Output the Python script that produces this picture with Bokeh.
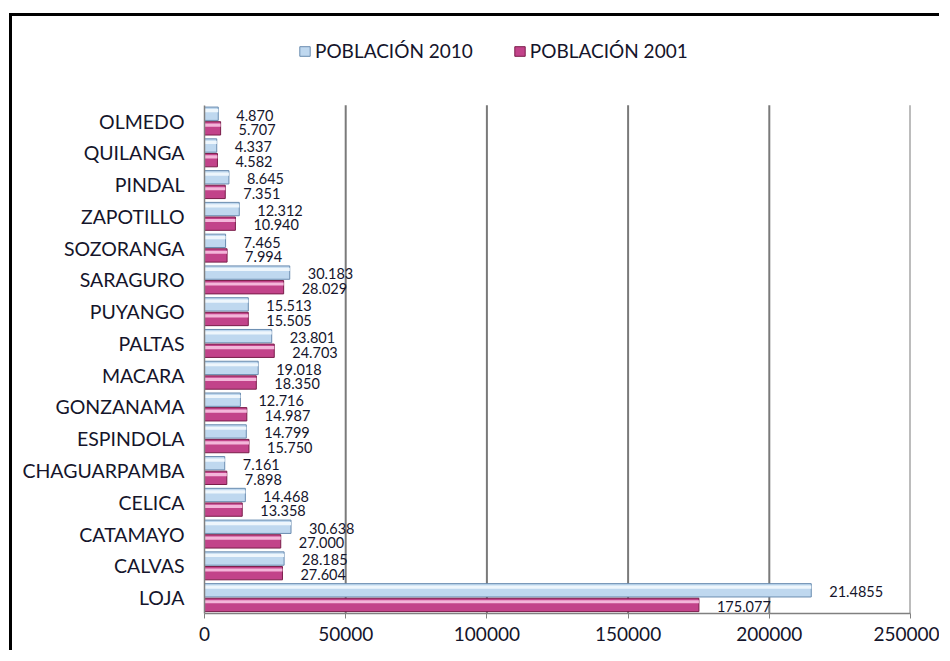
from bokeh.plotting import figure
from bokeh.models import (Range1d, FixedTicker, Legend, LegendItem,
                          ColumnDataSource, BasicTickFormatter)
from bokeh.transform import dodge
from bokeh.core.properties import value
from bokeh.embed import file_html
from bokeh.resources import INLINE

# ---- data (top to bottom as shown) ----
cantones = ["OLMEDO", "QUILANGA", "PINDAL", "ZAPOTILLO", "SOZORANGA", "SARAGURO",
            "PUYANGO", "PALTAS", "MACARA", "GONZANAMA", "ESPINDOLA", "CHAGUARPAMBA",
            "CELICA", "CATAMAYO", "CALVAS", "LOJA"]
pob_2010 = [4870, 4337, 8645, 12312, 7465, 30183, 15513, 23801, 19018, 12716, 14799,
            7161, 14468, 30638, 28185, 214855]
pob_2001 = [5707, 4582, 7351, 10940, 7994, 28029, 15505, 24703, 18350, 14987, 15750,
            7898, 13358, 27000, 27604, 175077]
etiq_2010 = ["4.870", "4.337", "8.645", "12.312", "7.465", "30.183", "15.513", "23.801",
             "19.018", "12.716", "14.799", "7.161", "14.468", "30.638", "28.185", "21.4855"]
etiq_2001 = ["5.707", "4.582", "7.351", "10.940", "7.994", "28.029", "15.505", "24.703",
             "18.350", "14.987", "15.750", "7.898", "13.358", "27.000", "27.604", "175.077"]
series = ["POBLACIÓN 2010", "POBLACIÓN 2001"]
x_ticks = [0, 50000, 100000, 150000, 200000, 250000]

FONT = "Lato"
TXT = "#15152b"

n = len(cantones)
ypos = [n - i for i in range(n)]          # OLMEDO at top (n), LOJA at bottom (1)
source = ColumnDataSource(dict(canton=cantones, y=ypos, p2010=pob_2010, p2001=pob_2001,
                               l2010=etiq_2010, l2001=etiq_2001))

p = figure(width=930, height=637,
           y_range=Range1d(0.5, n + 0.5 + 2.35),
           x_range=Range1d(0, 250000),
           output_backend="svg", toolbar_location=None,
           min_border_left=192, min_border_right=32, min_border_top=14, min_border_bottom=40)
p.styles = {"border-top": "3px solid black", "border-left": "3px solid black",
            "margin-left": "9px", "margin-top": "13px"}
p.outline_line_color = None
p.background_fill_color = "white"

# vertical gridlines limited to the category area
grid_x = x_ticks[1:]
p.segment(x0=grid_x, x1=grid_x, y0=[0.5] * len(grid_x), y1=[n + 0.5] * len(grid_x),
          line_color="#7a7a7a", line_width=2)

r1 = p.hbar(y=dodge("y", 0.23), left=0, right="p2010", height=0.42,
            fill_color="#bfd8ef", line_color="#6a8cb0", line_width=1, source=source)
p.hbar(y=dodge("y", 0.33), left=0, right="p2010", height=0.1,
       fill_color="#eef6fc", line_color=None, source=source)
r2 = p.hbar(y=dodge("y", -0.23), left=0, right="p2001", height=0.42,
            fill_color="#c2438a", line_color="#7a1d4a", line_width=1, source=source)
p.hbar(y=dodge("y", -0.13), left=0, right="p2001", height=0.1,
       fill_color="#f3b6da", line_color=None, source=source)

p.text(x="p2010", y=dodge("y", 0.19), text="l2010", x_offset=18,
       text_align="left", text_baseline="middle", text_font=value(FONT),
       text_font_size="14.5px", text_color=TXT, source=source)
p.text(x="p2001", y=dodge("y", -0.27), text="l2001", x_offset=18,
       text_align="left", text_baseline="middle", text_font=value(FONT),
       text_font_size="14.5px", text_color=TXT, source=source)

# axes
p.xaxis.ticker = FixedTicker(ticks=x_ticks)
p.xaxis.formatter = BasicTickFormatter(use_scientific=False)
p.xaxis.axis_line_color = "#808080"
p.xaxis.axis_line_width = 1.5
p.xaxis.major_tick_line_color = "#808080"
p.xaxis.major_tick_out = 5
p.xaxis.major_tick_in = 0
p.xaxis.minor_tick_line_color = None
p.xaxis.major_label_standoff = 8
p.xaxis.major_label_text_font = FONT
p.xaxis.major_label_text_font_size = "19px"
p.xaxis.major_label_text_color = TXT

overrides = {}
for yy, name in zip(ypos, cantones):
    overrides[yy] = name
    overrides[str(yy)] = name
p.yaxis.ticker = FixedTicker(ticks=ypos)
p.yaxis.major_label_overrides = overrides
p.yaxis.bounds = (0.5, n + 0.5)
p.yaxis.axis_line_color = "#808080"
p.yaxis.axis_line_width = 1.5
p.yaxis.major_tick_line_color = None
p.yaxis.minor_tick_line_color = None
p.yaxis.major_label_standoff = 14
p.yaxis.major_label_text_font = FONT
p.yaxis.major_label_text_font_size = "19.5px"
p.yaxis.major_label_text_color = TXT

p.ygrid.grid_line_color = None
p.xgrid.grid_line_color = None

legend = Legend(items=[LegendItem(label=series[0], renderers=[r1]),
                       LegendItem(label=series[1], renderers=[r2])],
                orientation="horizontal", location=(94, 551),
                glyph_width=13, glyph_height=12, label_standoff=4, spacing=40,
                padding=0, margin=0, border_line_color=None, background_fill_alpha=0,
                label_text_font=FONT, label_text_font_size="19px", label_text_color=TXT)
p.add_layout(legend)

open("out.html", "w").write(file_html(p, INLINE))
